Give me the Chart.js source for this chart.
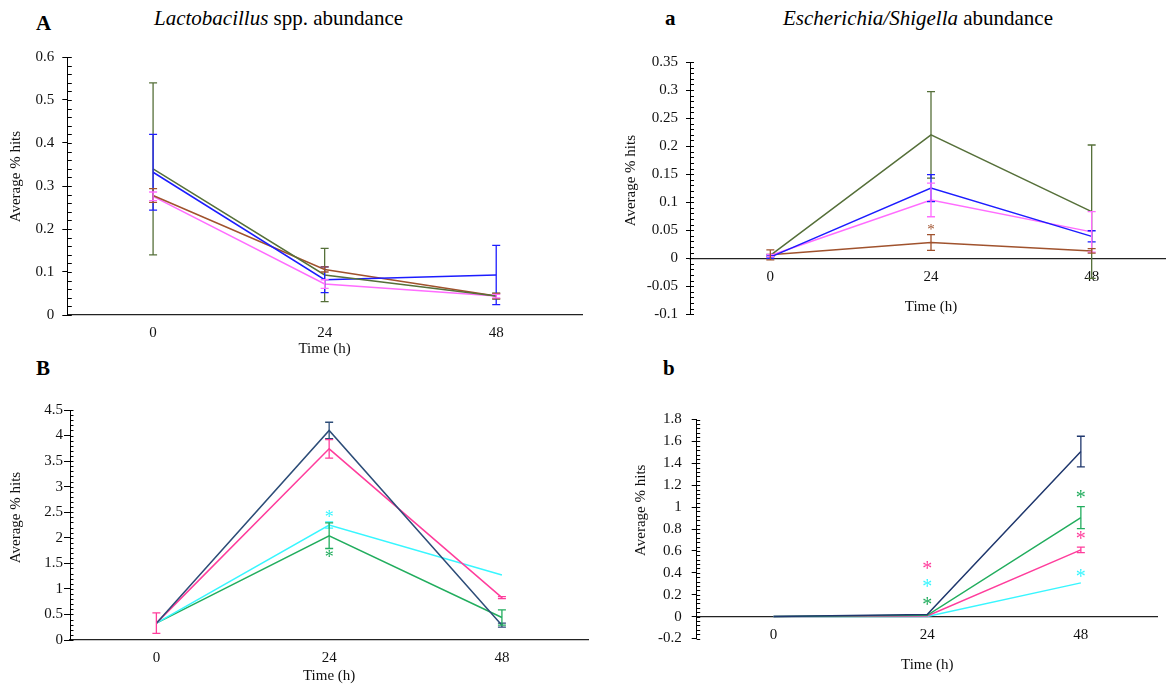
<!DOCTYPE html>
<html>
<head>
<meta charset="utf-8">
<script src="https://cdn.jsdelivr.net/npm/chart.js@4.4.0/dist/chart.umd.min.js"></script>
<style>
  html, body { margin: 0; padding: 0; background: #fff; }
  body { position: relative; width: 1166px; height: 690px; overflow: hidden; }
  canvas { position: absolute; }
  .lbl { position: absolute; font-family: "Liberation Serif", "Times New Roman", serif; color: #000; line-height: 1; white-space: nowrap; font-size: 21px; }
  .letter { font-weight: bold; }
</style>
</head>
<body>
<div class="lbl letter" style="left:36px;top:13px">A</div>
<div class="lbl" style="left:154px;top:8px"><i>Lactobacillus</i> spp. abundance</div>
<div class="lbl letter" style="left:665px;top:8px">a</div>
<div class="lbl" style="left:783px;top:8px"><i>Escherichia/Shigella</i> abundance</div>
<div class="lbl letter" style="left:36px;top:358px">B</div>
<div class="lbl letter" style="left:663px;top:358px">b</div>

<canvas id="chartA" width="590" height="320" style="left:0;top:40px"></canvas>
<canvas id="chartEsc" width="580" height="332" style="left:600px;top:40px"></canvas>
<canvas id="chartB" width="598" height="295" style="left:0;top:395px"></canvas>
<canvas id="chartBb" width="566" height="300" style="left:600px;top:400px"></canvas>

<script>
// time points (h)
const times = ['0', '24', '48'];

// A - Lactobacillus spp.
const lacOlive = [0.34, 0.093, 0.044];
const lacOliveErr = [0.2, 0.062, 0.007];
const lacBlue = [0.332, 0.082, 0.093];
const lacBlueErr = [0.088, 0.03, 0.069];
const lacBrown = [0.278, 0.106, 0.044];
const lacBrownErr = [0.016, 0.006, 0.006];
const lacPink = [0.276, 0.072, 0.044];
const lacPinkErr = [0.01, 0.01, 0.004];

// a - Escherichia/Shigella
const escOlive = [0.005, 0.22, 0.083];
const escOliveErr = [0.002, 0.077, 0.119];
const escBlue = [0.002, 0.125, 0.039];
const escBlueErr = [0.002, 0.024, 0.01];
const escPink = [0.005, 0.104, 0.047];
const escPinkErr = [0.002, 0.03, 0.036];
const escBrown = [0.006, 0.028, 0.013];
const escBrownErr = [0.009, 0.014, 0.004];
const escStars = [{ at: '24', y: 0.054, of: 3 }];

// B
const bNavy = [0.33, 4.1, 0.29];
const bNavyErr = [0, 0.16, 0.04];
const bPink = [0.33, 3.74, 0.83];
const bPinkErr = [0.2, 0.18, 0.02];
const bCyan = [0.33, 2.25, 1.27];
const bCyanErr = [0, 0.06, 0];
const bGreen = [0.33, 2.04, 0.44];
const bGreenErr = [0, 0.25, 0.15];
const bStars = [{ at: '24', y: 2.43, of: 2 }, { at: '24', y: 1.64, of: 3 }];

// b
const bbNavy = [0, 0.02, 1.507];
const bbNavyErr = [0, 0, 0.14];
const bbGreen = [0, 0.012, 0.904];
const bbGreenErr = [0, 0, 0.1];
const bbPink = [0, 0.005, 0.609];
const bbPinkErr = [0, 0, 0.025];
const bbCyan = [0, 0, 0.308];
const bbCyanErr = [0, 0, 0];
const bbStars = [
  { at: '24', y: 0.45, of: 2 }, { at: '24', y: 0.287, of: 3 }, { at: '24', y: 0.122, of: 1 },
  { at: '48', y: 1.10, of: 1 }, { at: '48', y: 0.725, of: 2 }, { at: '48', y: 0.38, of: 3 }
];

const OLIVE = '#56703a', BLUE = '#1c1cff', BROWN = '#a0522d', VIOLET = '#ff6cff';
const PINK = '#ff3d9c', CYAN = '#38f6ff', GREEN = '#22ad5e';

Chart.defaults.font.family = '"Liberation Serif", "Times New Roman", serif';
Chart.defaults.color = '#000';

function fmt(v) { return String(Number(v.toFixed(3))); }

function extras(stars, innerLen, starSize) {
  return {
    id: 'extras',
    afterDatasetsDraw(chart) {
      const ctx = chart.ctx, x = chart.scales.x, y = chart.scales.y;
      ctx.save();
      // inner tick marks on y axis
      ctx.strokeStyle = '#000';
      ctx.lineWidth = 1;
      y.ticks.forEach(t => {
        const py = Math.round(y.getPixelForValue(t.value)) + 0.5;
        ctx.beginPath();
        ctx.moveTo(y.right, py);
        ctx.lineTo(y.right + innerLen, py);
        ctx.stroke();
      });
      // error bars
      chart.data.datasets.forEach(ds => {
        ctx.strokeStyle = ds.borderColor;
        ctx.lineWidth = 1.3;
        ds.data.forEach((v, i) => {
          const e = ds.errors[i];
          if (!e) return;
          const px = x.getPixelForValue(i);
          const top = y.getPixelForValue(v + e), bot = y.getPixelForValue(v - e);
          ctx.beginPath();
          ctx.moveTo(px, top); ctx.lineTo(px, bot);
          ctx.moveTo(px - 4, top); ctx.lineTo(px + 4, top);
          ctx.moveTo(px - 4, bot); ctx.lineTo(px + 4, bot);
          ctx.stroke();
        });
      });
      // significance asterisks
      ctx.font = starSize + 'px "Liberation Serif"';
      ctx.textAlign = 'center';
      ctx.textBaseline = 'middle';
      stars.forEach(s => {
        ctx.fillStyle = chart.data.datasets[s.of].borderColor;
        ctx.fillText('*', x.getPixelForValue(times.indexOf(s.at)), y.getPixelForValue(s.y) + starSize * 0.13);
      });
      ctx.restore();
    }
  };
}

function makeChart(id, p) {
  const yTicks = [];
  const n = Math.round((p.max - p.min) / p.minor);
  for (let k = 0; k <= n; k++) yTicks.push(Number((p.min + k * p.minor).toFixed(4)));
  const isMajor = v => Math.abs(v / p.major - Math.round(v / p.major)) < 1e-6;
  // leading spaces nudge the rotated y title upward (~1.9px per space)
  const yTitle = ' '.repeat(p.yTitleLift) + 'Average % hits';

  return new Chart(document.getElementById(id), {
    type: 'line',
    data: {
      labels: times,
      datasets: p.series.map(s => ({
        data: s[0], errors: s[1], borderColor: s[2], backgroundColor: s[2],
        borderWidth: 1.5, pointRadius: 0, tension: 0, fill: false
      }))
    },
    options: {
      responsive: false,
      animation: false,
      layout: { padding: p.pad },
      plugins: { legend: { display: false }, tooltip: { enabled: false } },
      scales: {
        x: {
          type: 'category',
          offset: true,
          position: p.xAtZero ? { y: 0 } : 'bottom',
          grid: { display: false, drawTicks: false },
          border: { display: true, color: '#222', width: 1.2 },
          ticks: { padding: p.xTickPad, maxRotation: 0, font: { size: 15 }, color: '#111' },
          title: { display: true, text: 'Time (h)', font: { size: 15 }, color: '#111', padding: { top: 0, bottom: p.xTitlePad } },
          afterFit: s => { s.height = p.xHeight; }
        },
        y: {
          min: p.min,
          max: p.max,
          afterBuildTicks: s => { s.ticks = yTicks.map(v => ({ value: v })); },
          grid: {
            drawOnChartArea: false,
            tickLength: p.tickLen,
            tickColor: c => (c.tick && isMajor(c.tick.value)) ? '#000' : 'rgba(0,0,0,0)'
          },
          border: { display: true, color: '#000', width: 1 },
          ticks: {
            autoSkip: false,
            padding: p.yTickPad,
            font: { size: 15 },
            color: '#111',
            callback: v => isMajor(v) ? fmt(v) : ''
          },
          title: { display: true, text: yTitle, font: { size: 15 }, color: '#111', padding: 0 },
          afterFit: s => { s.width = p.yWidth; }
        }
      }
    },
    plugins: [extras(p.stars, p.inner, p.starSize)]
  });
}

makeChart('chartA', {
  series: [[lacOlive, lacOliveErr, OLIVE], [lacBlue, lacBlueErr, BLUE], [lacBrown, lacBrownErr, BROWN], [lacPink, lacPinkErr, VIOLET]],
  min: 0, max: 0.6, minor: 0.02, major: 0.1,
  pad: { left: 7, top: 14, right: 8, bottom: 0 },
  yWidth: 60.3, xHeight: 45, xAtZero: false, xTickPad: 9, xTitlePad: 2,
  tickLen: 5, yTickPad: 8, inner: 4.5, stars: [], starSize: 14, yTitleLift: 5
});

makeChart('chartEsc', {
  series: [[escOlive, escOliveErr, OLIVE], [escBlue, escBlueErr, BLUE], [escPink, escPinkErr, VIOLET], [escBrown, escBrownErr, BROWN]],
  min: -0.1, max: 0.35, minor: 0.01, major: 0.05,
  pad: { left: 22, top: 22, right: 8, bottom: 57.7 },
  yWidth: 68, xHeight: 57.7, xAtZero: true, xTickPad: 10, xTitlePad: 0,
  tickLen: 4, yTickPad: 8, inner: 4, stars: escStars, starSize: 15, yTitleLift: 4
});

makeChart('chartB', {
  series: [[bNavy, bNavyErr, '#2d4d78'], [bPink, bPinkErr, PINK], [bCyan, bCyanErr, CYAN], [bGreen, bGreenErr, GREEN]],
  min: 0, max: 4.5, minor: 0.1, major: 0.5,
  pad: { left: 7, top: 15, right: 9.7, bottom: 5 },
  yWidth: 63, xHeight: 45, xAtZero: false, xTickPad: 9, xTitlePad: 0,
  tickLen: 6, yTickPad: 1, inner: 3.5, stars: bStars, starSize: 18, yTitleLift: 4
});

makeChart('chartBb', {
  series: [[bbNavy, bbNavyErr, '#1f376d'], [bbGreen, bbGreenErr, GREEN], [bbPink, bbPinkErr, PINK], [bbCyan, bbCyanErr, CYAN]],
  min: -0.2, max: 1.8, minor: 0.04, major: 0.2,
  pad: { left: 32, top: 19.5, right: 8.3, bottom: 61.5 },
  yWidth: 64.7, xHeight: 61.5, xAtZero: true, xTickPad: 9.3, xTitlePad: 4,
  tickLen: 5, yTickPad: 10, inner: 3.5, stars: bbStars, starSize: 20, yTitleLift: 10
});
</script>
</body>
</html>
